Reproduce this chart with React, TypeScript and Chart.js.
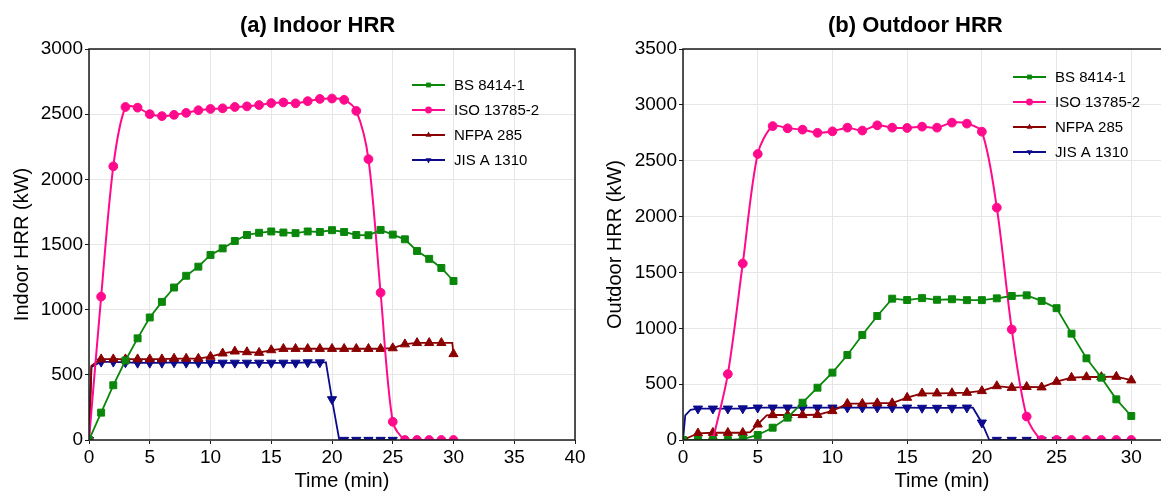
import React, { useEffect, useRef } from "react";
import { Chart, registerables } from "chart.js";

Chart.register(...registerables);

type Pt = [number, number];

// ---------- data ----------
const seriesNames = ["BS 8414-1", "ISO 13785-2", "NFPA 285", "JIS A 1310"];
const seriesColors = ["#0a870a", "#ff0a8c", "#8b0000", "#0b0b8c"];
const seriesMarkers = ["rect", "circle", "triangle", "triangle"];

const indoorXTicks = [0, 5, 10, 15, 20, 25, 30, 35, 40];
const indoorYTicks = [0, 500, 1000, 1500, 2000, 2500, 3000];
const outdoorXTicks = [0, 5, 10, 15, 20, 25, 30, 35];
const outdoorYTicks = [0, 500, 1000, 1500, 2000, 2500, 3000, 3500];

const indoorBS: Pt[] = [
  [0, 0], [1, 210], [2, 420], [3, 610], [4, 780], [5, 940], [6, 1060], [7, 1170], [8, 1260], [9, 1330],
  [10, 1420], [11, 1470], [12, 1527], [13, 1573], [14, 1590], [15, 1600], [16, 1592], [17, 1587], [18, 1600],
  [19, 1596], [20, 1610], [21, 1596], [22, 1573], [23, 1571], [24, 1612], [25, 1576], [26, 1540], [27, 1450],
  [28, 1390], [29, 1320], [30, 1220],
];
const indoorISO: Pt[] = [
  [0, 0], [1, 1100], [2, 2100], [3, 2555], [4, 2550], [5, 2500], [6, 2485], [7, 2495], [8, 2510], [9, 2530],
  [10, 2540], [11, 2545], [12, 2555], [13, 2560], [14, 2570], [15, 2585], [16, 2590], [17, 2583], [18, 2600],
  [19, 2617], [20, 2620], [21, 2610], [22, 2525], [23, 2155], [24, 1130], [25, 140], [26, 0], [27, 0], [28, 0],
  [29, 0], [30, 0],
];
const indoorNFPA: Pt[] = [
  [0, 0], [0.2, 570], [1, 620], [2, 620], [3, 620], [4, 620], [5, 620], [6, 620], [7, 625], [8, 625], [9, 625],
  [10, 640], [11, 665], [12, 680], [13, 675], [14, 670], [15, 690], [16, 700], [17, 700], [18, 700], [19, 700],
  [20, 700], [21, 700], [22, 700], [23, 700], [24, 700], [25, 705], [26, 735], [27, 745], [28, 745], [29, 745],
  [29.9, 745], [30, 660],
];
const indoorJIS: Pt[] = [
  [0, 0], [0.2, 560], [1, 600], [2, 600], [3, 595], [4, 592], [5, 592], [6, 592], [7, 595], [8, 592], [9, 592],
  [10, 592], [11, 592], [12, 592], [13, 592], [14, 592], [15, 592], [16, 592], [17, 592], [18, 595], [19, 595],
  [19.5, 595], [20, 312], [20.6, 0], [21, 0], [22, 0], [23, 0], [24, 0], [25, 0],
];

const outdoorBS: Pt[] = [
  [0, 0], [1, 0], [2, 0], [3, 0], [4, 8], [5, 45], [6, 110], [7, 200], [8, 334], [9, 468], [10, 603],
  [11, 761], [12, 940], [13, 1110], [14, 1265], [15, 1253], [16, 1270], [17, 1255], [18, 1260], [19, 1252],
  [20, 1252], [21, 1268], [22, 1289], [23, 1295], [24, 1245], [25, 1180], [26, 952], [27, 731], [28, 558],
  [29, 364], [30, 215],
];
const outdoorISO: Pt[] = [
  [2, 0], [3, 590], [4, 1580], [5, 2560], [6, 2810], [7, 2790], [8, 2778], [9, 2750], [10, 2763], [11, 2796],
  [12, 2770], [13, 2817], [14, 2796], [15, 2793], [16, 2805], [17, 2796], [18, 2841], [19, 2832], [20, 2760],
  [21, 2080], [22, 990], [23, 210], [24, 0], [25, 0], [26, 0], [27, 0], [28, 0], [29, 0], [30, 0],
];
const outdoorNFPA: Pt[] = [
  [0, 0], [1, 60], [2, 65], [3, 65], [4, 65], [4.5, 70], [5, 140], [5.6, 220], [6, 224], [7, 224], [8, 224],
  [9, 226], [10, 260], [11, 325], [12, 325], [13, 330], [14, 330], [15, 379], [16, 418], [17, 418], [18, 420],
  [19, 424], [20, 439], [21, 483], [22, 468], [23, 476], [24, 472], [25, 522], [26, 558], [27, 564], [28, 564],
  [29, 567], [30, 535],
];
const outdoorJIS: Pt[] = [
  [0, 0], [0.15, 220], [0.5, 270], [1, 280], [2, 280], [3, 280], [4, 282], [5, 289], [6, 289], [7, 289],
  [8, 289], [9, 289], [10, 289], [11, 289], [12, 289], [13, 289], [14, 289], [15, 289], [16, 287], [17, 287],
  [18, 287], [19, 289], [19.4, 289], [20, 155], [20.5, 0], [21, 0], [22, 0], [23, 0], [24, 0], [25, 0],
];

// ---------- styling ----------
const FONT = "'Liberation Sans', Arial, sans-serif";
const markerRadius = [4.9, 4.4, 5.3, 5.3];

interface Panel {
  canvasWidth: number;
  axisWidth: number;
  padRight: number;
  title: string;
  titleX: number;
  yTitle: string;
  yTitleX: number;
  xTitleX: number;
  xMax: number;
  yMax: number;
  xTicks: number[];
  yTicks: number[];
  series: Pt[][];
  legendLine: [number, number];
  legendTextX: number;
  legendY: number;
}

const PLOT_TOP = 49;
const PLOT_BOTTOM = 440;
const H = 492;

function drawMarker(ctx: CanvasRenderingContext2D, i: number, x: number, y: number, r: number) {
  ctx.beginPath();
  if (i === 0) {
    const s = r * Math.SQRT1_2;
    ctx.rect(x - s, y - s, 2 * s, 2 * s);
  } else if (i === 1) {
    ctx.arc(x, y, r, 0, Math.PI * 2);
  } else {
    const dir = i === 3 ? -1 : 1;
    ctx.moveTo(x, y - dir * r);
    ctx.lineTo(x + r * 0.866, y + dir * r * 0.5);
    ctx.lineTo(x - r * 0.866, y + dir * r * 0.5);
    ctx.closePath();
  }
  ctx.fill();
}

function makeDecor(p: Panel) {
  return {
    id: "decor",
    afterDatasetsDraw(chart: any) {
      const ctx: CanvasRenderingContext2D = chart.ctx;
      const a = chart.chartArea;
      ctx.save();
      ctx.strokeStyle = "#1a1a1a";
      ctx.lineWidth = 1.5;
      ctx.strokeRect(a.left, a.top, a.right - a.left, a.bottom - a.top);
      ctx.font = `15px ${FONT}`;
      ctx.textBaseline = "middle";
      ctx.textAlign = "left";
      seriesNames.forEach((name, i) => {
        const y = p.legendY + i * 25;
        ctx.strokeStyle = seriesColors[i];
        ctx.fillStyle = seriesColors[i];
        ctx.lineWidth = 1.8;
        ctx.beginPath();
        ctx.moveTo(p.legendLine[0], y);
        ctx.lineTo(p.legendLine[1], y);
        ctx.stroke();
        drawMarker(ctx, i, (p.legendLine[0] + p.legendLine[1]) / 2, y, 3.4);
        ctx.fillStyle = "#000";
        ctx.fillText(name, p.legendTextX, y + 1);
      });
      ctx.restore();
    },
    afterDraw(chart: any) {
      const ctx: CanvasRenderingContext2D = chart.ctx;
      ctx.save();
      ctx.fillStyle = "#000";
      ctx.textBaseline = "alphabetic";
      ctx.textAlign = "left";
      ctx.font = `bold 22px ${FONT}`;
      ctx.fillText(p.title, p.titleX, 32);
      ctx.font = `20px ${FONT}`;
      ctx.textAlign = "center";
      ctx.fillText("Time (min)", p.xTitleX, 487);
      ctx.translate(p.yTitleX, (PLOT_TOP + PLOT_BOTTOM) / 2);
      ctx.rotate(-Math.PI / 2);
      ctx.textBaseline = "middle";
      ctx.fillText(p.yTitle, 0, 0);
      ctx.restore();
    },
  };
}

function buildConfig(p: Panel): any {
  const datasets = p.series.map((pts, i) => ({
    label: seriesNames[i],
    data: pts.map(([x, y]) => ({ x, y })),
    borderColor: seriesColors[i],
    backgroundColor: seriesColors[i],
    borderWidth: i === 1 ? 2 : 1.8,
    tension: i === 1 ? 0.3 : 0,
    pointStyle: seriesMarkers[i],
    pointRotation: i === 3 ? 180 : 0,
    pointBorderWidth: 1,
    pointRadius: (c: any) => {
      const raw = c.raw as { x: number } | undefined;
      return raw && Number.isInteger(raw.x) ? markerRadius[i] : 0;
    },
    clip: 0,
  }));
  const tickFont = { family: FONT, size: 19 };
  const plain = (v: number | string) => String(v);
  return {
    type: "line",
    data: { datasets },
    options: {
      animation: false,
      responsive: false,
      devicePixelRatio: 1,
      layout: { padding: { top: PLOT_TOP, right: p.padRight, left: 0, bottom: 0 } },
      plugins: { legend: { display: false }, title: { display: false }, tooltip: { enabled: false } },
      scales: {
        x: {
          type: "linear",
          min: 0,
          max: p.xMax,
          afterBuildTicks: (axis: any) => {
            axis.ticks = p.xTicks.map((v) => ({ value: v }));
          },
          afterFit: (axis: any) => {
            axis.height = H - PLOT_BOTTOM;
            axis.paddingLeft = 0;
            axis.paddingRight = 0;
          },
          ticks: { font: tickFont, color: "#000", padding: 2, maxRotation: 0, autoSkip: false, callback: plain },
          grid: { color: "#e6e6e6", lineWidth: 1, tickLength: 4, tickColor: "#1a1a1a" },
          border: { display: false },
        },
        y: {
          type: "linear",
          min: 0,
          max: p.yMax,
          afterBuildTicks: (axis: any) => {
            axis.ticks = p.yTicks.map((v) => ({ value: v }));
          },
          afterFit: (axis: any) => {
            axis.width = p.axisWidth;
            axis.paddingTop = 0;
            axis.paddingBottom = 0;
          },
          ticks: { font: tickFont, color: "#000", padding: 2, autoSkip: false, callback: plain },
          grid: { color: "#e6e6e6", lineWidth: 1, tickLength: 4, tickColor: "#1a1a1a" },
          border: { display: false },
        },
      },
    },
    plugins: [makeDecor(p)],
  };
}

const indoorPanel: Panel = {
  canvasWidth: 600,
  axisWidth: 89,
  padRight: 25,
  title: "(a) Indoor HRR",
  titleX: 240,
  yTitle: "Indoor HRR (kW)",
  yTitleX: 22,
  xTitleX: 342,
  xMax: 40,
  yMax: 3000,
  xTicks: indoorXTicks,
  yTicks: indoorYTicks,
  series: [indoorBS, indoorISO, indoorNFPA, indoorJIS],
  legendLine: [412, 445],
  legendTextX: 454,
  legendY: 85,
};

const outdoorPanel: Panel = {
  canvasWidth: 640,
  axisWidth: 103,
  padRight: 14,
  title: "(b) Outdoor HRR",
  titleX: 248,
  yTitle: "Outdoor HRR (kW)",
  yTitleX: 35,
  xTitleX: 362,
  xMax: 35,
  yMax: 3500,
  xTicks: outdoorXTicks,
  yTicks: outdoorYTicks,
  series: [outdoorBS, outdoorISO, outdoorNFPA, outdoorJIS],
  legendLine: [433, 466],
  legendTextX: 475,
  legendY: 77,
};

function HrrChart({ panel }: { panel: Panel }) {
  const ref = useRef<HTMLCanvasElement>(null);
  useEffect(() => {
    const chart = new Chart(ref.current as HTMLCanvasElement, buildConfig(panel));
    return () => chart.destroy();
  }, [panel]);
  return (
    <canvas
      ref={ref}
      width={panel.canvasWidth}
      height={H}
      style={{ display: "block", width: panel.canvasWidth, height: H }}
    />
  );
}

export default function App() {
  return (
    <div
      style={{
        position: "absolute",
        left: 0,
        top: 0,
        width: 1161,
        height: H,
        overflow: "hidden",
        background: "#fff",
      }}
    >
      <div style={{ position: "absolute", left: 0, top: 0, width: 600, height: H, overflow: "hidden" }}>
        <HrrChart panel={indoorPanel} />
      </div>
      <div style={{ position: "absolute", left: 580, top: 0, width: 581, height: H, overflow: "hidden" }}>
        <HrrChart panel={outdoorPanel} />
      </div>
    </div>
  );
}
